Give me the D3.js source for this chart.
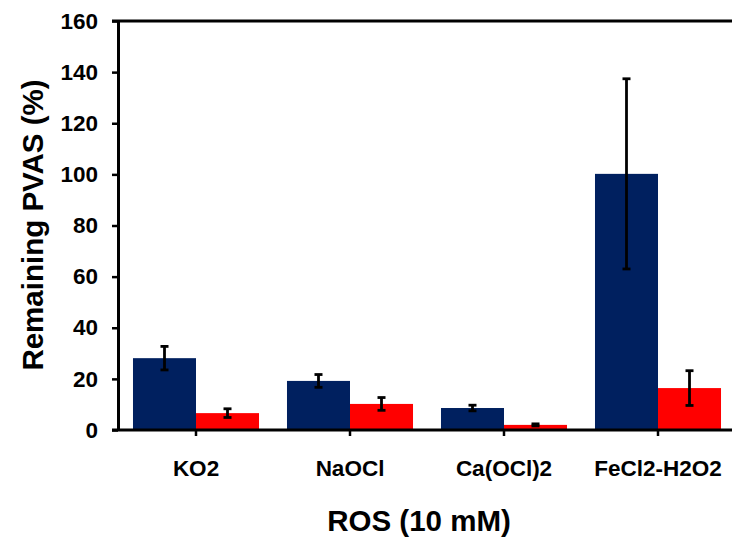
<!DOCTYPE html>
<html lang="en-US">
<head>
  <meta charset="UTF-8"/>
  <title>Remaining PVAS vs ROS</title>
  <style>
    body { margin: 0; background: #fff; }
    svg text { font-family: "Liberation Sans", Arial, sans-serif; font-weight: bold; fill: #000; }
  </style>
</head>
<body>
<script src="https://cdn.jsdelivr.net/npm/d3@7"></script>
<script>

// data
var categories = ["KO2", "NaOCl", "Ca(OCl)2", "FeCl2-H2O2"];
var series     = ["a", "b"];
var valuesA    = [28.1, 19.2, 8.6, 100.2];   // navy bars
var errorsA    = [4.6, 2.5, 1.1, 37.2];
var valuesB    = [6.6, 10.2, 2.0, 16.4];     // red bars
var errorsB    = [1.7, 2.5, 0.4, 6.8];
var yTicks     = [0, 20, 40, 60, 80, 100, 120, 140, 160];
var colors     = ["#00205f", "#ff0000"];

var W = 732, H = 538;
var x0 = 119, step = 154, yTop = 21, yBot = 430;

var svg = d3.select("body").append("svg")
    .attr("width", W)
    .attr("height", H);

var x = d3.scaleBand().domain(categories).range([x0, x0 + step*categories.length]).padding(0);
var xs = d3.scaleBand().domain(series).range([0, x.bandwidth()]).paddingInner(0).paddingOuter(0.222);
var y = d3.scaleLinear().domain([0, 160]).range([yBot, yTop]);

var rows = categories.map(function(c, i) {
  return [
    {cat: c, s: "a", v: valuesA[i], e: errorsA[i]},
    {cat: c, s: "b", v: valuesB[i], e: errorsB[i]}
  ];
});
var flat = d3.merge(rows);

// bars
svg.append("g").selectAll("rect")
    .data(flat)
  .enter().append("rect")
    .attr("x", function(d) { return x(d.cat) + xs(d.s); })
    .attr("width", xs.bandwidth())
    .attr("y", function(d) { return y(d.v); })
    .attr("height", function(d) { return y(0) - y(d.v); })
    .attr("fill", function(d) { return colors[series.indexOf(d.s)]; });

// error bars
var eg = svg.append("g").attr("stroke", "#000").attr("stroke-width", 2.8);
flat.forEach(function(d) {
  var cx = x(d.cat) + xs(d.s) + xs.bandwidth()/2;
  eg.append("line").attr("x1", cx).attr("x2", cx).attr("y1", y(d.v + d.e)).attr("y2", y(d.v - d.e));
  eg.append("line").attr("x1", cx - 4).attr("x2", cx + 4).attr("y1", y(d.v + d.e)).attr("y2", y(d.v + d.e));
  eg.append("line").attr("x1", cx - 4).attr("x2", cx + 4).attr("y1", y(d.v - d.e)).attr("y2", y(d.v - d.e));
});

// y axis
var ya = svg.append("g")
    .attr("transform", "translate(" + (x0 - 1) + ",0)")
    .call(d3.axisLeft(y).tickValues(yTicks).tickSize(6).tickSizeOuter(0).tickPadding(14));
ya.select(".domain").attr("stroke", "#000").attr("stroke-width", 3);
ya.selectAll(".tick line").attr("stroke", "#000").attr("stroke-width", 2.5);
ya.selectAll(".tick text").style("font-size", "22.5px");

// top frame line
svg.append("line")
    .attr("x1", x0 - 7).attr("x2", W)
    .attr("y1", y(160)).attr("y2", y(160))
    .attr("stroke", "#000").attr("stroke-width", 3);

// x axis
var xa = svg.append("g")
    .attr("transform", "translate(0," + y(0) + ")")
    .call(d3.axisBottom(x).tickSize(6).tickSizeOuter(0));
xa.select(".domain").attr("d", "M" + (x0 - 7) + ",0H" + W).attr("stroke", "#000").attr("stroke-width", 3);
xa.selectAll(".tick line").attr("stroke", "#000").attr("stroke-width", 2.5);
xa.selectAll(".tick text").attr("y", 46).attr("dy", 0).style("font-size", "22.5px");

// axis titles
svg.append("text")
    .attr("x", 419).attr("y", 531)
    .style("text-anchor", "middle")
    .style("font-size", "29.5px")
    .text("ROS (10 mM)");

svg.append("text")
    .attr("transform", "translate(43,225) rotate(-90)")
    .style("text-anchor", "middle")
    .style("font-size", "29.5px")
    .text("Remaining PVAS (%)");

</script>
</body>
</html>
